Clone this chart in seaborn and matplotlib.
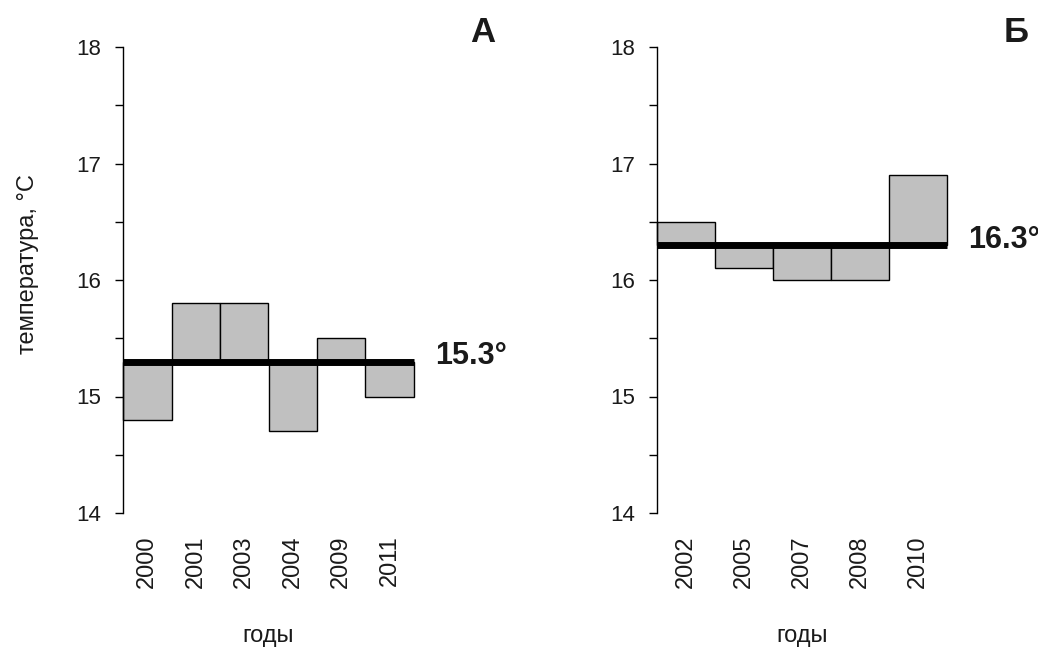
import numpy as np
import pandas as pd
import matplotlib
matplotlib.use('Agg')
import matplotlib.pyplot as plt
import seaborn as sns

# данные
years_a = ['2000', '2001', '2003', '2004', '2009', '2011']
temp_a = [14.8, 15.8, 15.8, 14.7, 15.5, 15.0]
mean_a = 15.3

years_b = ['2002', '2005', '2007', '2008', '2010']
temp_b = [16.5, 16.1, 16.0, 16.0, 16.9]
mean_b = 16.3

y_ticks = [14, 14.5, 15, 15.5, 16, 16.5, 17, 17.5, 18]

sns.set_theme(style='ticks')
plt.rcParams['font.family'] = ['Liberation Sans', 'DejaVu Sans']
plt.rcParams['text.color'] = '#1a1a1a'
plt.rcParams['axes.labelcolor'] = '#1a1a1a'

W, H = 1038, 648
fig = plt.figure(figsize=(W / 100, H / 100), dpi=100)


def px_axes(x0, y0, x1, y1):
    return fig.add_axes([x0 / W, 1 - y1 / H, (x1 - x0) / W, (y1 - y0) / H])


def draw_panel(ax, years, temps, mean):
    df = pd.DataFrame({'год': years, 'dev': np.array(temps) - mean})
    sns.barplot(data=df, x='год', y='dev', bottom=mean, width=1.0,
                color='#c0c0c0', saturation=1, errorbar=None,
                edgecolor='black', linewidth=1.0, ax=ax, zorder=2)
    for p in ax.patches:
        p.set_clip_on(False)
    n = len(years)
    ax.hlines(mean, -0.5, n - 0.5, colors='black', linewidth=5, zorder=3,
              clip_on=False)
    ax.set_xlim(-0.5, n - 0.5)
    ax.set_ylim(14, 18)
    ax.set_yticks(y_ticks)
    ax.set_yticklabels([f'{t:g}' if float(t).is_integer() else '' for t in y_ticks])
    ax.tick_params(axis='y', length=6, width=1, pad=10, labelsize=16,
                   color='black', labelcolor='#1a1a1a')
    ax.tick_params(axis='x', length=0, pad=16, labelsize=17, labelrotation=90,
                   labelcolor='#1a1a1a')
    sns.despine(ax=ax, bottom=True)
    ax.spines['left'].set_bounds(14, 18)
    ax.spines['left'].set_linewidth(1.0)
    ax.spines['left'].set_color('black')
    ax.set_xlabel('годы', fontsize=17)
    ax.xaxis.set_label_coords(0.5, -0.24)
    ax.set_ylabel('')
    ax.annotate(f'{mean:.1f}°', xy=(n - 0.5, mean), xytext=(15, -2),
                textcoords='offset points', ha='left', va='baseline',
                fontsize=22, fontweight='bold', annotation_clip=False)
    ax.set_facecolor('white')


ax_a = px_axes(123, 47, 414, 513)
ax_b = px_axes(657, 47, 947, 513)

draw_panel(ax_a, years_a, temp_a, mean_a)
draw_panel(ax_b, years_b, temp_b, mean_b)

ax_a.set_ylabel('температура, °C', fontsize=17)
ax_a.yaxis.set_label_coords(-0.29, 0.534)

fig.text(483 / W, 1 - 33 / H, 'А', ha='center', va='center', fontsize=25, fontweight='bold')
fig.text(1016 / W, 1 - 33 / H, 'Б', ha='center', va='center', fontsize=25, fontweight='bold')

fig.savefig('out.png', dpi=100, facecolor='white')
